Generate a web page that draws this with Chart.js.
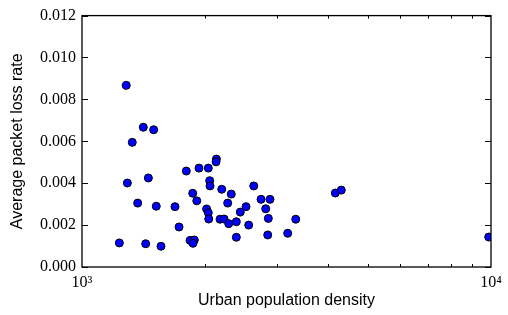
<!DOCTYPE html>
<html>
<head>
<meta charset="utf-8">
<script src="https://cdn.jsdelivr.net/npm/chart.js@4/dist/chart.umd.min.js"></script>
<style>
  html, body { margin: 0; padding: 0; background: #fff; }
  #wrap { width: 508px; height: 315px; }
</style>
</head>
<body>
<div id="wrap"><canvas id="plot" width="508" height="315"></canvas></div>
<script>
// urban population density (x) vs average packet loss rate (y)
const density = [
  1283, 1412, 1497, 1327, 2131, 2127, 1932, 2036, 1799, 1453,
  1291, 2052, 2056, 2630, 2196, 1865, 2317, 1908, 1368, 2271,
  2740, 2882, 1519, 1688, 2518, 2017, 2813, 2036, 2438, 2041,
  2175, 2225, 2855, 3331, 2384, 2284, 2556, 1727, 2384, 2845,
  3184, 1837, 1882, 1868, 1234, 1431, 1560, 4163, 4305, 9872
];
const lossRate = [
  0.00867, 0.00667, 0.00655, 0.00595, 0.00515, 0.00502, 0.00472, 0.00472, 0.00458, 0.00425,
  0.00401, 0.00412, 0.00387, 0.00387, 0.00371, 0.00352, 0.00348, 0.00316, 0.00305, 0.00305,
  0.00323, 0.00323, 0.00290, 0.00288, 0.00288, 0.00277, 0.00278, 0.00259, 0.00262, 0.00229,
  0.00228, 0.00229, 0.00232, 0.00228, 0.00216, 0.00207, 0.00200, 0.00191, 0.00142, 0.00153,
  0.00161, 0.00127, 0.00129, 0.00113, 0.00115, 0.00111, 0.00099, 0.00353, 0.00367, 0.00143
];
const xMajor = [1000, 10000];
const xMinor = [2000, 3000, 4000, 5000, 6000, 7000, 8000, 9000];
const yTicks = [0, 0.002, 0.004, 0.006, 0.008, 0.010, 0.012];

const points = density.map((d, i) => ({ x: d, y: lossRate[i] }));

const serif = "'Liberation Serif', 'DejaVu Serif', serif";
const sans = "'Liberation Sans', Arial, sans-serif";

// matplotlib-classic style frame with inward ticks
const frame = {
  id: "frame",
  afterDatasetsDraw(chart) {
    const { ctx, chartArea: a, scales } = chart;
    ctx.save();
    ctx.strokeStyle = "#000";
    ctx.lineWidth = 1;
    ctx.beginPath();
    yTicks.forEach(v => {
      const py = Math.round(scales.y.getPixelForValue(v)) + 0.5;
      ctx.moveTo(a.left, py); ctx.lineTo(a.left + 6, py);
      ctx.moveTo(a.right, py); ctx.lineTo(a.right - 6, py);
    });
    xMinor.forEach(v => {
      const px = Math.round(scales.x.getPixelForValue(v)) + 0.5;
      ctx.moveTo(px, a.bottom); ctx.lineTo(px, a.bottom - 3);
      ctx.moveTo(px, a.top); ctx.lineTo(px, a.top + 3);
    });
    ctx.stroke();
    ctx.lineWidth = 1.3;
    ctx.strokeRect(a.left, a.top, a.right - a.left, a.bottom - a.top);
    ctx.restore();
  }
};

new Chart(document.getElementById("plot"), {
  type: "scatter",
  data: {
    datasets: [{
      data: points,
      backgroundColor: "#0000ff",
      borderColor: "#000",
      borderWidth: 1,
      pointRadius: 4,
      pointHoverRadius: 4
    }]
  },
  options: {
    responsive: false,
    animation: false,
    layout: { padding: { left: 0, right: 17, top: 15, bottom: 0 } },
    plugins: { legend: { display: false }, tooltip: { enabled: false } },
    scales: {
      x: {
        type: "logarithmic",
        min: 1000,
        max: 10000,
        grid: { display: false, drawTicks: false },
        border: { display: false },
        afterBuildTicks: s => { s.ticks = xMajor.map(v => ({ value: v })); },
        ticks: {
          autoSkip: false,
          maxRotation: 0,
          padding: 6,
          color: "#000",
          font: { family: serif, size: 16 },
          callback: v => (v === 1000 ? "10³" : v === 10000 ? "10⁴" : "")
        },
        title: {
          display: true,
          text: "Urban population density",
          color: "#000",
          font: { family: sans, size: 16 },
          padding: { top: 0, bottom: 5 }
        },
        afterFit: s => { s.height = 48; }
      },
      y: {
        min: 0,
        max: 0.012,
        grid: { display: false, drawTicks: false },
        border: { display: false },
        afterBuildTicks: s => { s.ticks = yTicks.map(v => ({ value: v })); },
        ticks: {
          padding: 6,
          color: "#000",
          font: { family: serif, size: 16 },
          callback: v => v.toFixed(3)
        },
        title: {
          display: true,
          text: "Average packet loss rate",
          color: "#000",
          font: { family: sans, size: 16 },
          padding: { top: 8, bottom: 0 }
        },
        afterFit: s => { s.width = 82; }
      }
    }
  },
  plugins: [frame]
});
</script>
</body>
</html>
